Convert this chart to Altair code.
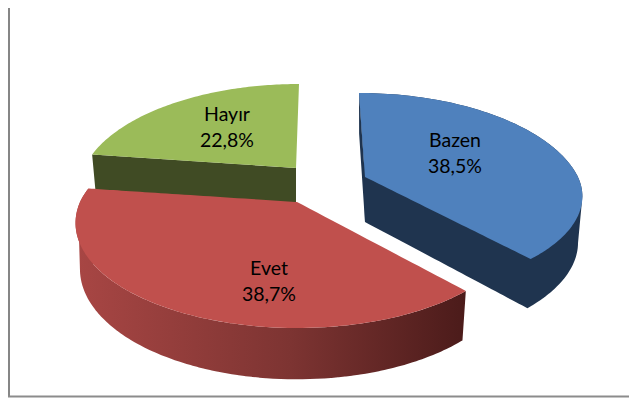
import math
import altair as alt
import pandas as pd

# Data
categories = ["Bazen", "Evet", "Hayır"]
shares = [38.5, 38.7, 22.8]
share_labels = ["38,5%", "38,7%", "22,8%"]
colors = ["#4F81BD", "#C0504D", "#9BBB59"]
wall_colors = ["#1F344F", "#4B1B1A", "#404B24"]
red_wall_stops = ["#A84644", "#7D3432", "#4B1B1A"]

# Layout of the exploded 3D pie (apex x/y, horizontal and front radius, back skew)
apex_x = [365, 297, 296]
apex_y = [177, 202, 168]
radius_x = [213, 217, 212]
radius_front = [93, 100.8, 100.8]
back_skew = [7.2, -4, -3.6]
label_x = [455, 269, 227]
label_y = [141, 269, 115]
line_gap = 26
W, H = 621, 390
OFF = 8
K = 0.2
DEPTH = 45


def project(i, deg):
    t = math.radians(deg)
    u, v = math.sin(t), -math.cos(t)
    w = 1 - K * v
    b = radius_front[i] if v > 0 else 100.8
    x = apex_x[i] + (radius_x[i] * u + back_skew[i] * min(v, 0)) / w
    y = apex_y[i] + b * v / w
    return x, y


def lower(i, p):
    return (apex_x[i] + (p[0] - apex_x[i]) * 0.98,
            apex_y[i] + (p[1] - apex_y[i]) * 1.05 + DEPTH)


def arc(i, a, b, n=90):
    return [project(i, a + (b - a) * k / n) for k in range(n + 1)]


def band(poly):
    """Turn a closed polygon into vertical spans an area mark can draw."""
    xs = sorted({round(p[0], 2) for p in poly})
    rows = []
    m = len(poly)
    for x in xs:
        ys = []
        for j in range(m):
            (x1, y1), (x2, y2) = poly[j], poly[(j + 1) % m]
            lo, hi = min(x1, x2) - 0.006, max(x1, x2) + 0.006
            if lo <= x <= hi:
                if abs(x2 - x1) < 1e-6:
                    ys += [y1, y2]
                else:
                    s = min(max((x - x1) / (x2 - x1), 0), 1)
                    ys.append(y1 + (y2 - y1) * s)
        rows.append({"x": x - OFF, "y": min(ys) - OFF, "y2": max(ys) - OFF})
    return pd.DataFrame(rows)


x_scale = alt.Scale(domain=[0, W], nice=False, zero=False)
y_scale = alt.Scale(domain=[H, 0], nice=False, zero=False)


def area(poly, fill):
    return alt.Chart(band(poly)).mark_area(color=fill, interpolate="linear").encode(
        x=alt.X("x:Q", scale=x_scale, axis=None),
        y=alt.Y("y:Q", scale=y_scale, axis=None),
        y2="y2:Q",
    )


# Angles clockwise from the top: Bazen, Evet, Hayır
starts, total = [], 0.0
for s in shares:
    starts.append(total)
    total += s * 3.6
ends = [a + s * 3.6 for a, s in zip(starts, shares)]

layers = []
# Hayır
i = 2
a_top = arc(i, starts[i], ends[i])
apex = (apex_x[i], apex_y[i])
cut = [a_top[0], apex, lower(i, apex), lower(i, a_top[0])]
layers.append(area(cut, wall_colors[i]))
layers.append(area(a_top + [apex], colors[i]))

# Bazen
i = 0
a_top = arc(i, starts[i], ends[i])
apex = (apex_x[i], apex_y[i])
layers.append(area([a_top[0], apex, lower(i, apex), lower(i, a_top[0])], wall_colors[i]))
ext = max(range(len(a_top)), key=lambda k: a_top[k][0])
wall = [apex] + a_top[:ext + 1] + [lower(i, p) for p in a_top[ext:]] + [lower(i, apex)]
layers.append(area(wall, wall_colors[i]))
layers.append(area(a_top + [apex], colors[i]))

# Evet
i = 1
a_top = arc(i, starts[i], ends[i])
apex = (apex_x[i], apex_y[i])
outer = a_top + [lower(i, p) for p in reversed(a_top)]
gradient = alt.Gradient(
    gradient="linear",
    stops=[
        alt.GradientStop(color=red_wall_stops[0], offset=0),
        alt.GradientStop(color=red_wall_stops[1], offset=0.55),
        alt.GradientStop(color=red_wall_stops[2], offset=1),
    ],
    x1=0, x2=1, y1=0, y2=0,
)
layers.append(area(outer, gradient))
layers.append(area(a_top + [apex], colors[i]))

# Labels
text_rows = []
for n, p, x, y in zip(categories, share_labels, label_x, label_y):
    text_rows.append({"t": n, "x": x - OFF, "y": y - OFF})
    text_rows.append({"t": p, "x": x - OFF, "y": y + line_gap - OFF})
labels = alt.Chart(pd.DataFrame(text_rows)).mark_text(
    font="Lato", fontSize=19.5, color="#000000", align="center", baseline="middle"
).encode(
    x=alt.X("x:Q", scale=x_scale, axis=None),
    y=alt.Y("y:Q", scale=y_scale, axis=None),
    text="t:N",
)

# Chart frame
frame_left = alt.Chart(pd.DataFrame({"a": [0]})).mark_rule(color="#868686", strokeWidth=2).encode(
    x=alt.value(1), y=alt.value(0), y2=alt.value(389)
)
frame_bottom = alt.Chart(pd.DataFrame({"a": [0]})).mark_rule(color="#8C8C8C", strokeWidth=2).encode(
    x=alt.value(0), x2=alt.value(W), y=alt.value(388.5)
)

chart = alt.layer(*layers, labels, frame_left, frame_bottom).properties(
    width=W, height=H, padding=0, autosize=alt.AutoSizeParams(type="none"),
    background="#FFFFFF",
).configure_view(stroke=None)

chart.save("out.html", embed_options={"renderer": "svg", "actions": False})
